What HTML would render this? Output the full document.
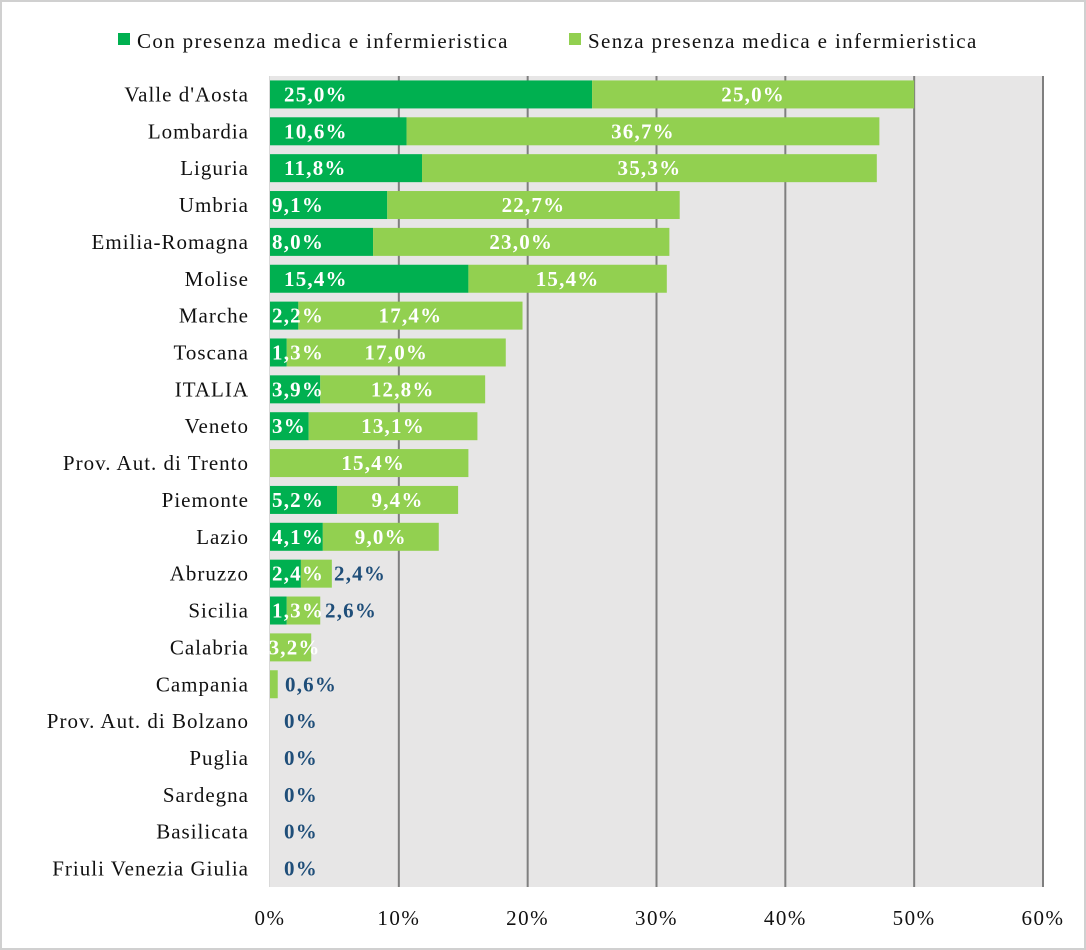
<!DOCTYPE html>
<html><head><meta charset="utf-8"><style>
html,body{margin:0;padding:0;background:#fff}
svg{display:block;font-family:"Liberation Serif",serif}
</style></head><body>
<svg id="c" width="1086" height="950" xmlns="http://www.w3.org/2000/svg">
<rect x="1" y="1" width="1084" height="948" fill="#fff" stroke="#d0d0d0" stroke-width="2"/>
<rect x="269" y="76" width="774" height="811" fill="#e7e6e6"/>
<rect x="118" y="33" width="12" height="12" fill="#00b050"/>
<text x="137" y="48" font-size="21" letter-spacing="1.35" fill="#111">Con presenza medica e infermieristica</text>
<rect x="569" y="33" width="12" height="12" fill="#92d050"/>
<text x="588" y="48" font-size="21" letter-spacing="1.35" fill="#111">Senza presenza medica e infermieristica</text>
<g id="g"></g>
</svg>
<script>
var d=[["Valle d'Aosta",25,25,"25,0%","25,0%"],["Lombardia",10.6,36.7,"10,6%","36,7%"],["Liguria",11.8,35.3,"11,8%","35,3%"],["Umbria",9.1,22.7,"9,1%","22,7%"],["Emilia-Romagna",8,23,"8,0%","23,0%"],["Molise",15.4,15.4,"15,4%","15,4%"],["Marche",2.2,17.4,"2,2%","17,4%"],["Toscana",1.3,17,"1,3%","17,0%"],["ITALIA",3.9,12.8,"3,9%","12,8%"],["Veneto",3,13.1,"3%","13,1%"],["Prov. Aut. di Trento",0,15.4,"","15,4%"],["Piemonte",5.2,9.4,"5,2%","9,4%"],["Lazio",4.1,9,"4,1%","9,0%"],["Abruzzo",2.4,2.4,"2,4%","",[334,"2,4%"]],["Sicilia",1.3,2.6,"1,3%","",[325,"2,6%"]],["Calabria",0,3.2,"","3,2%"],["Campania",0,0.6,"","",[285,"0,6%"]],["Prov. Aut. di Bolzano",0,0,"","",[284,"0%"]],["Puglia",0,0,"","",[284,"0%"]],["Sardegna",0,0,"","",[284,"0%"]],["Basilicata",0,0,"","",[284,"0%"]],["Friuli Venezia Giulia",0,0,"","",[284,"0%"]]];
var s='',X0=270,K=773/60,T=76,R=811/22;
for(var i=1;i<=6;i++){var x=X0+i*K*10;s+='<line x1="'+x+'" y1="76" x2="'+x+'" y2="887" stroke="#7f7f7f" stroke-width="2"/>';}
s+='<line x1="269.5" y1="76" x2="269.5" y2="887" stroke="#d9d9d9" stroke-width="1"/>';
for(var i=0;i<=6;i++){s+='<text x="'+(X0+i*K*10)+'" y="925" font-size="21" letter-spacing="1.5" text-anchor="middle" fill="#111">'+(i*10)+'%</text>';}
var B='font-size="21" font-weight="bold" letter-spacing="1.2"';
d.forEach(function(r,i){var cy=T+R*(i+0.5),y=cy-14,w1=r[1]*K,w2=r[2]*K;
s+='<text x="249" y="'+(cy+7)+'" font-size="21" letter-spacing="1" text-anchor="end" fill="#111">'+r[0]+'</text>';
if(w1)s+='<rect x="'+X0+'" y="'+y+'" width="'+w1+'" height="28" fill="#00b050"/>';
if(w2)s+='<rect x="'+(X0+w1)+'" y="'+y+'" width="'+w2+'" height="28" fill="#92d050"/>';
if(r[3])s+='<text x="'+(w1>130?284:272)+'" y="'+(cy+7)+'" '+B+' fill="#fff">'+r[3]+'</text>';
if(r[4])s+='<text x="'+(X0+w1+w2/2+(w1?0:4))+'" y="'+(cy+7)+'" '+B+' fill="#fff" text-anchor="middle">'+r[4]+'</text>';
if(r[5])s+='<text x="'+r[5][0]+'" y="'+(cy+7)+'" '+B+' fill="#1f4e79">'+r[5][1]+'</text>';
});
document.getElementById('g').innerHTML=s;
</script>
</body></html>
